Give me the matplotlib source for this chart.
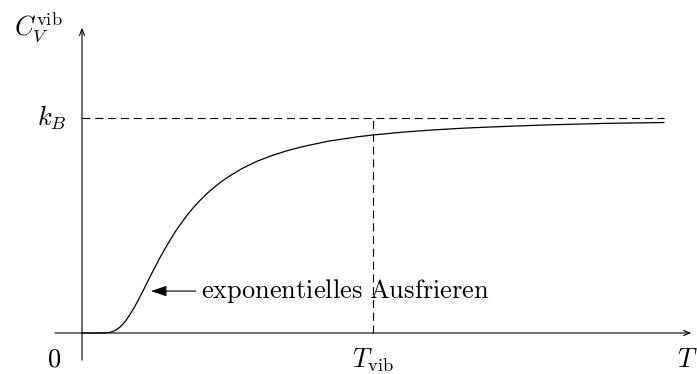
import matplotlib
matplotlib.use("Agg")
import matplotlib.pyplot as plt

plt.rcParams["mathtext.fontset"] = "cm"
plt.rcParams["lines.scale_dashes"] = False

# temperature in units of T_vib, heat capacity in units of k_B
T = [0.0, 0.05, 0.08, 0.09, 0.10, 0.11, 0.12, 0.13, 0.14, 0.15, 0.16, 0.17,
     0.18, 0.19, 0.20, 0.21, 0.22, 0.235, 0.25, 0.265, 0.28, 0.30, 0.32, 0.34,
     0.36, 0.38, 0.40, 0.425, 0.45, 0.475, 0.50, 0.55, 0.60, 0.65, 0.70, 0.75,
     0.80, 0.85, 0.90, 0.95, 1.00, 1.10, 1.20, 1.30, 1.40, 1.60, 1.80, 2.00]
C = [0.0, 0.0, 0.0006, 0.0018, 0.0045, 0.0093, 0.0167, 0.0270, 0.0404,
     0.0567, 0.0757, 0.0971, 0.120, 0.145, 0.171, 0.197, 0.224, 0.265, 0.304,
     0.343, 0.380, 0.426, 0.470, 0.509, 0.546, 0.579, 0.609, 0.643, 0.673,
     0.700, 0.724, 0.765, 0.798, 0.824, 0.846, 0.864, 0.879, 0.893, 0.903,
     0.913, 0.921, 0.934, 0.944, 0.952, 0.958, 0.968, 0.975, 0.979]
T_vib = 1.0
k_B = 1.0
T_end = 2.0
arrow_target = (0.237, 0.195)

fig = plt.figure(figsize=(6.97, 3.74), dpi=100)
ax = fig.add_axes([0, 0, 1, 1])
ax.set_xlim(-82 / 291, 615 / 291)
ax.set_ylim(-41 / 215, 333 / 215)
ax.axis("off")

lw = 0.8
# coordinate axes with arrow tips
ax.annotate("", xy=(2.094, 0), xytext=(-0.093, 0),
            arrowprops=dict(arrowstyle="->,head_length=0.45,head_width=0.18",
                            lw=lw, color="black", shrinkA=0, shrinkB=0))
ax.annotate("", xy=(0, 1.42), xytext=(0, -0.126),
            arrowprops=dict(arrowstyle="->,head_length=0.45,head_width=0.18",
                            lw=lw, color="black", shrinkA=0, shrinkB=0))

# reference lines
ax.plot([0, T_end], [k_B, k_B], color="black", lw=lw, dashes=(5.8, 3.4))
ax.plot([T_vib, T_vib], [0, k_B], color="black", lw=lw, dashes=(5.8, 3.4))

# heat capacity curve
ax.plot(T, C, color="black", lw=0.9, solid_capstyle="round",
        solid_joinstyle="round")

fs = 19
ax.text(-0.095, -0.125, r"$0$", fontsize=fs, ha="center", va="center")
ax.text(T_vib, -0.125, r"$T_{\mathrm{vib}}$", fontsize=fs, ha="center", va="center")
ax.text(2.081, -0.125, r"$T$", fontsize=fs, ha="center", va="center")
ax.text(-0.052, k_B, r"$k_B$", fontsize=fs, ha="right", va="center")
ax.text(-0.15, 1.42, r"$C_V^{\mathrm{vib}}$", fontsize=fs, ha="center", va="center")

ax.annotate(r"$\mathrm{exponentielles\ Ausfrieren}$", xy=arrow_target,
            xytext=(0.41, 0.195), fontsize=fs, ha="left", va="center",
            arrowprops=dict(arrowstyle="-|>,head_length=0.5,head_width=0.17",
                            lw=lw, color="black", shrinkA=2, shrinkB=0))

fig.savefig("out.png", dpi=100)
